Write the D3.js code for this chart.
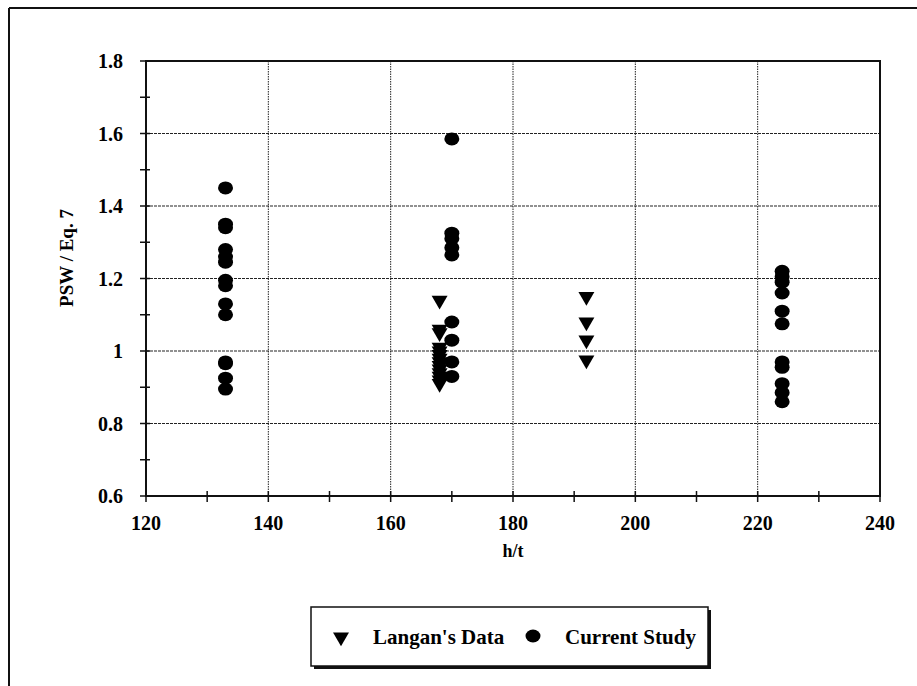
<!DOCTYPE html>
<html><head><meta charset="utf-8">
<script src="https://cdn.jsdelivr.net/npm/d3@7"></script>
<style>body{margin:0;background:#fff}svg{display:block}</style>
</head><body>
<script>
const xTicks = [120,140,160,180,200,220,240];
const yTicks = [0.6,0.8,1.0,1.2,1.4,1.6,1.8];
const yTickLabels = ["0.6","0.8","1","1.2","1.4","1.6","1.8"];
const langanX = [168,168,168,168,168,168,168,168,168,168,168,168,168,168,192,192,192,192];
const langanY = [1.14,1.06,1.05,1.01,1.00,0.99,0.98,0.97,0.96,0.95,0.94,0.93,0.92,0.91,1.15,1.08,1.03,0.975];
const studyX = [133,133,133,133,133,133,133,133,133,133,133,133,133,133,
                170,170,170,170,170,170,170,170,170,
                224,224,224,224,224,224,224,224,224,224,224];
const studyY = [1.45,1.35,1.34,1.28,1.26,1.245,1.195,1.18,1.13,1.10,0.97,0.965,0.925,0.895,
                1.585,1.325,1.31,1.285,1.265,1.08,1.03,0.97,0.93,
                1.22,1.205,1.19,1.16,1.11,1.075,0.97,0.955,0.91,0.885,0.86];
const legendLabels = ["Langan's Data","Current Study"];

const W=917,H=686;
const svg=d3.select("body").append("svg").attr("width",W).attr("height",H);
const L=146,R=880,T=61,B=496;
const x=d3.scaleLinear().domain([120,240]).range([L,R]);
const y=d3.scaleLinear().domain([0.6,1.8]).range([B,T]);
const serif="Liberation Serif";

// outer frame
svg.append("line").attr("x1",9).attr("x2",W).attr("y1",8).attr("y2",8).attr("stroke","#111").attr("stroke-width",2);
svg.append("line").attr("x1",9).attr("x2",9).attr("y1",8).attr("y2",H).attr("stroke","#111").attr("stroke-width",2);

// gridlines
const g=svg.append("g");
g.selectAll(".hg").data(yTicks.slice(1,-1)).join("line")
 .attr("x1",L).attr("x2",R).attr("y1",d=>y(d)).attr("y2",d=>y(d))
 .attr("stroke","#222").attr("stroke-width",1.2).attr("stroke-dasharray","3,1");
g.selectAll(".vg").data(xTicks.slice(1,-1)).join("line")
 .attr("y1",T).attr("y2",B).attr("x1",d=>x(d)).attr("x2",d=>x(d))
 .attr("stroke","#222").attr("stroke-width",1).attr("stroke-dasharray","1.5,1");

// plot border
svg.append("rect").attr("x",L).attr("y",T).attr("width",R-L).attr("height",B-T)
 .attr("fill","none").attr("stroke","#111").attr("stroke-width",2);

// axes (scales drive tick positions)
const xAx=d3.axisBottom(x).tickValues(d3.range(120,241,10)).tickSize(0).tickFormat("");
const yAx=d3.axisLeft(y).tickValues(d3.range(0.6,1.801,0.1)).tickSize(0).tickFormat("");
svg.append("g").attr("transform",`translate(0,${B})`).call(xAx).select(".domain").remove();
svg.append("g").attr("transform",`translate(${L},0)`).call(yAx).select(".domain").remove();
// crossing tick marks
svg.selectAll(".xt").data(d3.range(120,241,10)).join("line")
 .attr("x1",d=>x(d)).attr("x2",d=>x(d)).attr("y1",B-5).attr("y2",B+6).attr("stroke","#111").attr("stroke-width",1.5);
svg.selectAll(".yt").data(d3.range(6,19,1).map(v=>v/10)).join("line")
 .attr("y1",d=>y(d)).attr("y2",d=>y(d)).attr("x1",L-6).attr("x2",L+4).attr("stroke","#111").attr("stroke-width",1.5);

// tick labels
svg.selectAll(".xl").data(xTicks).join("text")
 .attr("x",d=>x(d)).attr("y",B+34).attr("text-anchor","middle")
 .attr("font-family",serif).attr("font-weight","bold").attr("font-size",20).text(d=>d);
svg.selectAll(".yl").data(yTicks).join("text")
 .attr("x",L-23).attr("y",(d)=>y(d)+7).attr("text-anchor","end")
 .attr("font-family",serif).attr("font-weight","bold").attr("font-size",20).text((d,i)=>yTickLabels[i]);

// axis titles
svg.append("text").attr("x",x(180)).attr("y",B+61).attr("text-anchor","middle")
 .attr("font-family",serif).attr("font-weight","bold").attr("font-size",18).text("h/t");
svg.append("text").attr("transform",`translate(73,258) rotate(-90)`).attr("text-anchor","middle")
 .attr("font-family",serif).attr("font-weight","bold").attr("font-size",19).text("PSW / Eq. 7");

// marks
const tri=d3.symbol().type(d3.symbolTriangle).size(110);
svg.selectAll(".lang").data(langanY).join("path")
 .attr("d",tri).attr("transform",(d,i)=>`translate(${x(langanX[i])},${y(d)}) rotate(180)`)
 .attr("fill","#000");
svg.selectAll(".cur").data(studyY).join("ellipse")
 .attr("cx",(d,i)=>x(studyX[i])).attr("cy",d=>y(d)).attr("rx",7.5).attr("ry",6.5).attr("fill","#000");

// legend
const lx=311,ly=607,lw=397,lh=59;
svg.append("rect").attr("x",lx+3).attr("y",ly+3).attr("width",lw).attr("height",lh).attr("fill","#111");
svg.append("rect").attr("x",lx).attr("y",ly).attr("width",lw).attr("height",lh).attr("fill","#fff").attr("stroke","#111").attr("stroke-width",1.5);
svg.append("path").attr("d",tri).attr("transform",`translate(341,${ly+30}) rotate(180)`).attr("fill","#000");
svg.append("ellipse").attr("cx",533).attr("cy",ly+29).attr("rx",7.5).attr("ry",6.5).attr("fill","#000");
svg.append("text").attr("x",373).attr("y",ly+37).attr("font-family",serif).attr("font-weight","bold").attr("font-size",21).text(legendLabels[0]);
svg.append("text").attr("x",565).attr("y",ly+37).attr("font-family",serif).attr("font-weight","bold").attr("font-size",21).text(legendLabels[1]);
</script>
</body></html>
